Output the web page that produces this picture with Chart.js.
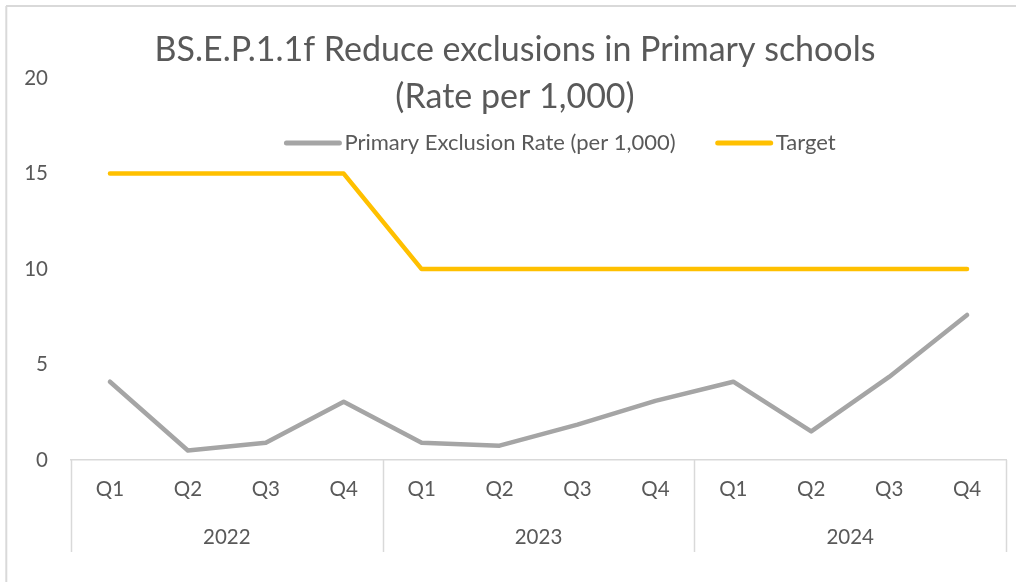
<!DOCTYPE html>
<html>
<head>
<meta charset="utf-8">
<script src="https://cdn.jsdelivr.net/npm/chart.js@4"></script>
<style>
  html, body { margin: 0; padding: 0; background: #fff; }
  #wrap { width: 1016px; height: 582px; }
</style>
</head>
<body>
<div id="wrap"><canvas id="myChart"></canvas></div>
<script>
const quarters = ['Q1', 'Q2', 'Q3', 'Q4', 'Q1', 'Q2', 'Q3', 'Q4', 'Q1', 'Q2', 'Q3', 'Q4'];
const years = ['2022', '2023', '2024'];
const exclusionRate = [4.1, 0.5, 0.9, 3.05, 0.9, 0.75, 1.85, 3.1, 4.1, 1.5, 4.35, 7.6];
const target = [15, 15, 15, 15, 10, 10, 10, 10, 10, 10, 10, 10];
const yTicks = [0, 5, 10, 15, 20];
const titleLines = ['BS.E.P.1.1f Reduce exclusions in Primary schools', '(Rate per 1,000)'];

const textGrey = '#595959';
const lineGrey = '#d9d9d9';
const font = 'Lato, "Open Sans", sans-serif';
const tickFont = { family: font, size: 20.5 };

// white background + the two visible frame edges
const frame = {
  id: 'frame',
  beforeDraw(chart) {
    const c = chart.ctx;
    c.save();
    c.fillStyle = '#fff';
    c.fillRect(0, 0, chart.width, chart.height);
    c.strokeStyle = lineGrey;
    c.lineWidth = 2;
    c.beginPath();
    c.moveTo(6, 6); c.lineTo(chart.width, 6);
    c.moveTo(6.3, 6); c.lineTo(6.3, chart.height);
    c.stroke();
    c.restore();
  }
};

// vertical separators between the year groups, running down through both label rows
const groupLines = {
  id: 'groupLines',
  afterDraw(chart) {
    const x2 = chart.scales.x2;
    const c = chart.ctx;
    c.save();
    c.strokeStyle = lineGrey;
    c.lineWidth = 1.5;
    c.beginPath();
    for (let i = 0; i <= years.length; i++) {
      const px = Math.round(x2.getPixelForValue(i - 0.5)) + 0.5;
      c.moveTo(px, chart.chartArea.bottom);
      c.lineTo(px, x2.bottom);
    }
    c.stroke();
    c.restore();
  }
};

// legend row sitting inside the plot, under the title
const inlineLegend = {
  id: 'inlineLegend',
  afterDraw(chart, args, opts) {
    const c = chart.ctx;
    const sets = chart.data.datasets;
    c.save();
    c.font = opts.fontSize + 'px ' + font;
    c.textBaseline = 'middle';
    c.textAlign = 'left';
    const widths = sets.map(ds => opts.swatch + opts.gap + c.measureText(ds.label).width);
    const total = widths.reduce((a, b) => a + b, 0) + opts.spacing * (sets.length - 1);
    let x = opts.centerX - total / 2;
    sets.forEach((ds, i) => {
      c.strokeStyle = ds.borderColor;
      c.lineWidth = 5;
      c.lineCap = 'round';
      c.beginPath();
      c.moveTo(x + 2, opts.y);
      c.lineTo(x + opts.swatch - 2, opts.y);
      c.stroke();
      c.fillStyle = textGrey;
      c.fillText(ds.label, x + opts.swatch + opts.gap, opts.y);
      x += widths[i] + opts.spacing;
    });
    c.restore();
  }
};

const ctx = document.getElementById('myChart');

new Chart(ctx, {
  type: 'line',
  data: {
    labels: quarters,
    datasets: [{
      label: 'Primary Exclusion Rate (per 1,000)',
      data: exclusionRate,
      borderColor: '#a5a5a5',
      backgroundColor: '#a5a5a5',
      borderWidth: 4.5,
      borderCapStyle: 'round',
      borderJoinStyle: 'round',
      pointRadius: 0,
      tension: 0
    }, {
      label: 'Target',
      data: target,
      borderColor: '#ffc000',
      backgroundColor: '#ffc000',
      borderWidth: 4.5,
      borderCapStyle: 'round',
      borderJoinStyle: 'round',
      pointRadius: 0,
      tension: 0
    }]
  },
  options: {
    responsive: true,
    maintainAspectRatio: false,
    animation: false,
    layout: {
      padding: { left: 24, right: 10, top: 0, bottom: 30 }
    },
    plugins: {
      title: {
        display: true,
        text: titleLines,
        color: textGrey,
        font: { family: font, size: 34, weight: 'normal', lineHeight: 1.37 },
        padding: { top: 27, bottom: -42 }
      },
      legend: { display: false },
      inlineLegend: { centerX: 560, y: 143, fontSize: 22, swatch: 57, gap: 3, spacing: 40 },
      tooltip: { enabled: false }
    },
    scales: {
      x: {
        type: 'category',
        offset: true,
        grid: { display: false, drawTicks: false },
        border: { display: true, color: lineGrey, width: 1.5 },
        ticks: {
          color: textGrey,
          font: tickFont,
          padding: 17,
          maxRotation: 0,
          autoSkip: false
        },
        afterFit(scale) { scale.height = 56; }
      },
      x2: {
        type: 'category',
        labels: years,
        position: 'bottom',
        offset: true,
        grid: { display: false, drawTicks: false },
        border: { display: false },
        ticks: {
          color: textGrey,
          font: tickFont,
          padding: 9,
          maxRotation: 0
        },
        afterFit(scale) { scale.height = 36; }
      },
      y: {
        min: 0,
        max: 20,
        grid: { display: false, drawTicks: false },
        border: { display: false },
        afterBuildTicks(scale) {
          scale.ticks = yTicks.map(v => ({ value: v }));
        },
        ticks: {
          color: textGrey,
          font: tickFont,
          padding: 23
        },
        afterFit(scale) { scale.width = 47; }
      }
    }
  },
  plugins: [frame, groupLines, inlineLegend]
});
</script>
</body>
</html>
